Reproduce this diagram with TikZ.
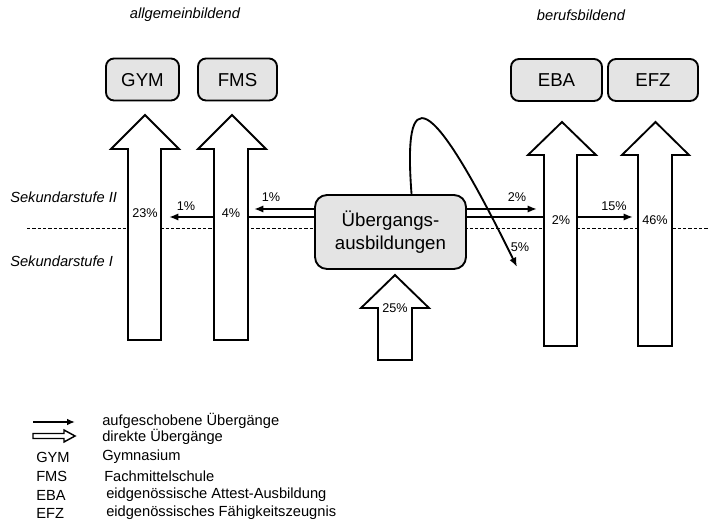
\documentclass[tikz,border=0pt]{standalone}
\usepackage{fontspec}
\setmainfont{Liberation Sans}
\usetikzlibrary{arrows.meta}

\definecolor{boxgray}{HTML}{E4E4E4}

\begin{document}
\begin{tikzpicture}[x=0.75pt,y=-0.75pt,
  schoolbox/.style={draw, line width=1.4pt, rounded corners=6pt, fill=boxgray,
    minimum height=31.5pt, inner sep=0pt, text height=10pt, text depth=0pt,
    font=\fontsize{14}{16}\selectfont},
  pct/.style={inner sep=0pt, font=\fontsize{9.5}{11}\selectfont},
  sidetext/.style={inner sep=0pt, font=\fontsize{11}{13}\selectfont\itshape},
  legtext/.style={anchor=west, inner sep=0pt, font=\fontsize{11}{13}\selectfont},
  delayed/.style={line width=1.4pt, -{Latex[length=7pt,width=5.5pt]}},
  direct/.style={line width=1.4pt},
  hollow/.style={draw, fill=white, line width=1.4pt, line join=miter}]
  \useasboundingbox (0,0) rectangle (708,524);

  % level line between Sekundarstufe I and II
  \draw[line width=0.5pt, dash pattern=on 2.5pt off 1.5pt] (27,228) -- (708,228);

  % --------------------
  % Headings
  % --------------------
  \node[sidetext] (allg) at (185,15) {allgemeinbildend};
  \node[sidetext] (beruf) at (581,15) {berufsbildend};
  \node[sidetext, anchor=west] (sek2) at (10,197) {Sekundarstufe II};
  \node[sidetext, anchor=west] (sek1) at (10,261) {Sekundarstufe I};

  % --------------------
  % School type boxes
  % --------------------
  \node[schoolbox, minimum width=54.75pt] (gym) at (142.5,79.5) {GYM};
  \node[schoolbox, minimum width=59.25pt] (fms) at (237.5,79.5) {FMS};
  \node[schoolbox, minimum width=68.25pt] (eba) at (556.5,80) {EBA};
  \node[schoolbox, minimum width=67.5pt]  (efz) at (653,80) {EFZ};

  % --------------------
  % Direct transitions (big arrows)
  % --------------------
  % shaft left/right, head left/right, tip, head base, bottom
  \foreach \sl/\sr/\hl/\hr/\tip/\base/\bot in {128/161/111/179/115/149/340,
      214/248/198/266/115/149/340, 544/577/528/596/122/155/346,
      638/672/622/689/122/155/346, 378/412/361/429/275/308/360} {
    \draw[hollow] (\sl,\bot) -- (\sl,\base) -- (\hl,\base) -- ({(\hl+\hr)/2},\tip)
      -- (\hr,\base) -- (\sr,\base) -- (\sr,\bot) -- cycle;
  }

  % --------------------
  % Transitional courses
  % --------------------
  \node[draw, line width=1.4pt, rounded corners=9pt, fill=boxgray, minimum width=113.25pt,
    minimum height=55.5pt, align=center, inner sep=0pt, font=\fontsize{14}{17.5}\selectfont]
    (ueb) at (390.5,232) {Übergangs-\\ausbildungen};

  % end points of the small arrows
  \coordinate (fmsL) at (213,217);
  \coordinate (gymR) at (169,217);
  \coordinate (fmsR1) at (254,209);
  \coordinate (fmsR2) at (248,217);
  \coordinate (ebaL1) at (537,209);
  \coordinate (ebaL2) at (544,217);
  \coordinate (ebaR) at (577,217);
  \coordinate (efzL) at (633,217);
  \coordinate (loopE) at (517,267);

  \draw[delayed] (fmsL) -- (gymR);
  \draw[delayed] (ueb.west |- fmsR1) -- (fmsR1);
  \draw[direct] (ueb.west |- fmsR2) -- (fmsR2);
  \draw[delayed] (ueb.east |- ebaL1) -- (ebaL1);
  \draw[direct] (ueb.east |- ebaL2) -- (ebaL2);
  \draw[delayed] (ebaR) -- (efzL);
  \draw[delayed] (ueb.61) .. controls (403,82) and (428,86) .. (loopE);

  % --------------------
  % Percentages
  % --------------------
  \node[pct] (p23) at (145,213) {23\%};
  \node[pct] (p1a) at (186,206) {1\%};
  \node[pct] (p4) at (231,213) {4\%};
  \node[pct] (p1b) at (271,197) {1\%};
  \node[pct] (p2a) at (517,197) {2\%};
  \node[pct] (p2b) at (561,220) {2\%};
  \node[pct] (p15) at (614,206) {15\%};
  \node[pct] (p46) at (655,220) {46\%};
  \node[pct] (p5) at (520,247) {5\%};
  \node[pct] (p25) at (395,308) {25\%};

  % --------------------
  % Legend
  % --------------------
  \coordinate (legA) at (33,422);
  \coordinate (legB) at (75,422);
  \draw[line width=1.2pt, -{Latex[length=6pt,width=5pt]}] (legA) -- (legB);
  \draw[hollow, line width=1.1pt] (33,433.5) -- (64,433.5) -- (64,430) -- (75,436)
    -- (64,442) -- (64,438.5) -- (33,438.5) -- cycle;

  \node[legtext] (l1) at (102,421) {aufgeschobene Übergänge};
  \node[legtext] (l2) at (102,437) {direkte Übergänge};
  \node[legtext] (k1) at (36,457) {GYM};
  \node[legtext] (t1) at (102,457) {Gymnasium};
  \node[legtext] (k2) at (36,476) {FMS};
  \node[legtext] (t2) at (104,476) {Fachmittelschule};
  \node[legtext] (k3) at (36,495) {EBA};
  \node[legtext] (t3) at (106,495) {eidgenössische Attest-Ausbildung};
  \node[legtext] (k4) at (36,513) {EFZ};
  \node[legtext] (t4) at (106,513) {eidgenössisches Fähigkeitszeugnis};

\end{tikzpicture}
\end{document}
